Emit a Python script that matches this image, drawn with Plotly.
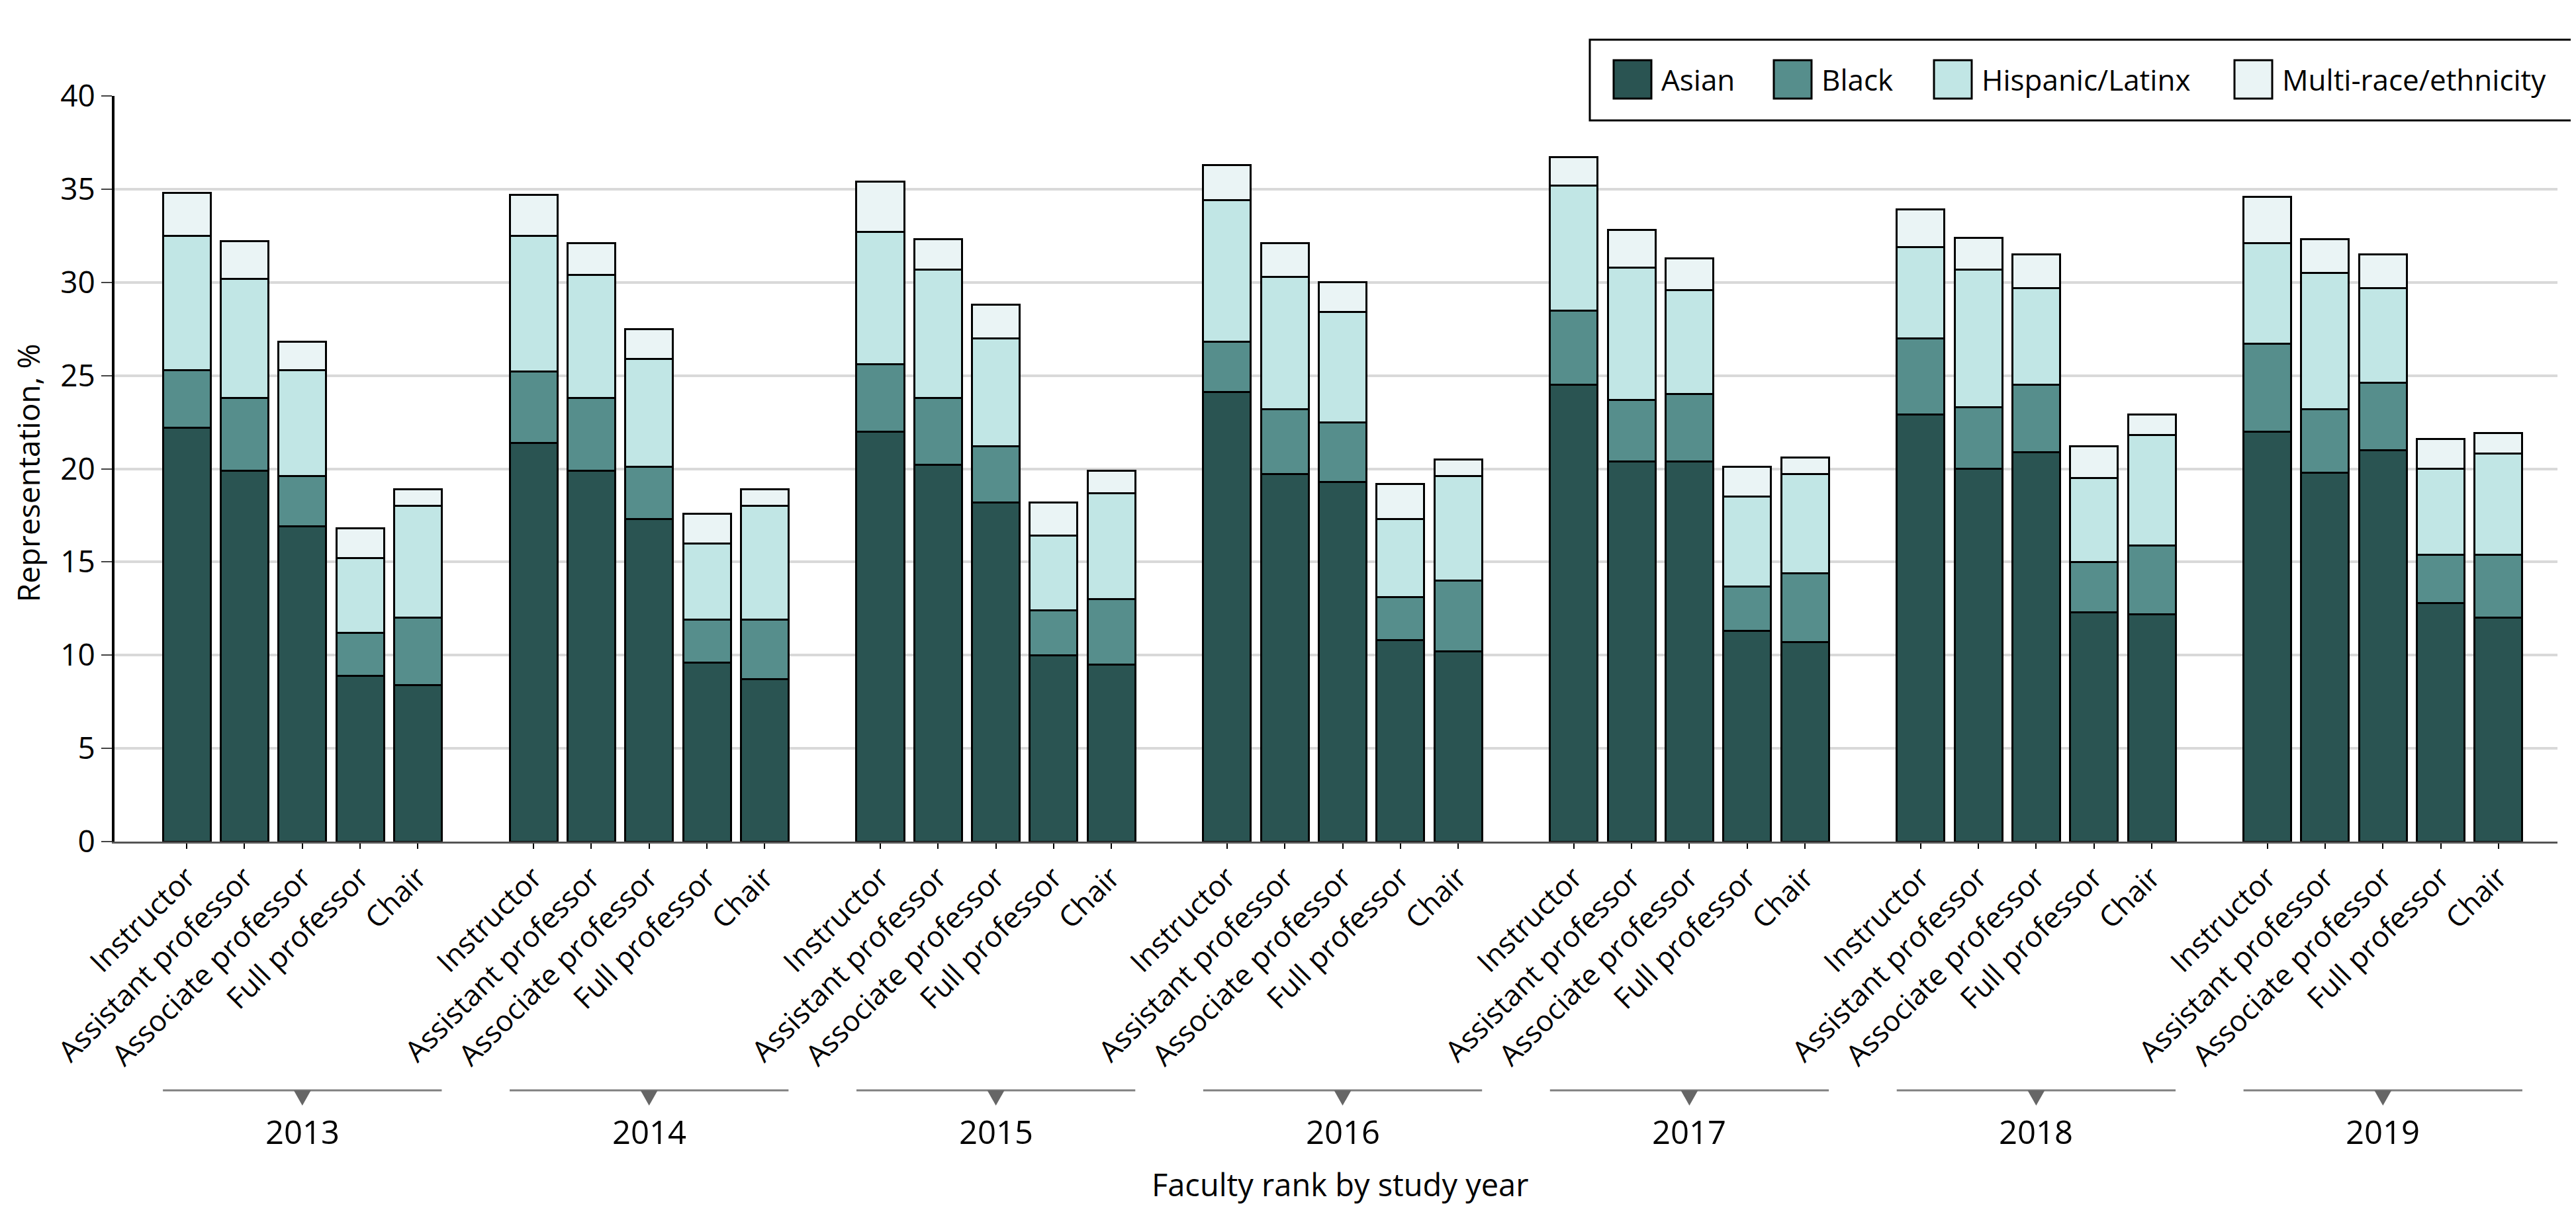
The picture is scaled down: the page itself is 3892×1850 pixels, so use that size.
import plotly.graph_objects as go

# ---------------- data ----------------
years = ["2013", "2014", "2015", "2016", "2017", "2018", "2019"]
ranks = ["Instructor", "Assistant professor", "Associate professor", "Full professor", "Chair"]
series_names = ["Asian", "Black", "Hispanic/Latinx", "Multi-race/ethnicity"]

asian = [22.2, 19.9, 16.9, 8.9, 8.4,
         21.4, 19.9, 17.3, 9.6, 8.7,
         22.0, 20.2, 18.2, 10.0, 9.5,
         24.1, 19.7, 19.3, 10.8, 10.2,
         24.5, 20.4, 20.4, 11.3, 10.7,
         22.9, 20.0, 20.9, 12.3, 12.2,
         22.0, 19.8, 21.0, 12.8, 12.0]
black = [3.1, 3.9, 2.7, 2.3, 3.6,
         3.8, 3.9, 2.8, 2.3, 3.2,
         3.6, 3.6, 3.0, 2.4, 3.5,
         2.7, 3.5, 3.2, 2.3, 3.8,
         4.0, 3.3, 3.6, 2.4, 3.7,
         4.1, 3.3, 3.6, 2.7, 3.7,
         4.7, 3.4, 3.6, 2.6, 3.4]
hispanic = [7.2, 6.4, 5.7, 4.0, 6.0,
            7.3, 6.6, 5.8, 4.1, 6.1,
            7.1, 6.9, 5.8, 4.0, 5.7,
            7.6, 7.1, 5.9, 4.2, 5.6,
            6.7, 7.1, 5.6, 4.8, 5.3,
            4.9, 7.4, 5.2, 4.5, 5.9,
            5.4, 7.3, 5.1, 4.6, 5.4]
multi = [2.3, 2.0, 1.5, 1.6, 0.9,
         2.2, 1.7, 1.6, 1.6, 0.9,
         2.7, 1.6, 1.8, 1.8, 1.2,
         1.9, 1.8, 1.6, 1.9, 0.9,
         1.5, 2.0, 1.7, 1.6, 0.9,
         2.0, 1.7, 1.8, 1.7, 1.1,
         2.5, 1.8, 1.8, 1.6, 1.1]
y_ticks = [0, 5, 10, 15, 20, 25, 30, 35, 40]

# ---------------- style ----------------
colors = ["#2a5452", "#568e8c", "#c1e6e5", "#eaf4f5"]
FONT = "Open Sans, DejaVu Sans, sans-serif"
W, H = 3892, 1850
ML, MR, MT, MB = 165, 36, 137, 586
SLOTS_PER_GROUP = 6
BAR_W = 0.825
X_RANGE = [-1.25, 41.02]

# positions: each year group uses 6 slots (5 bars + 1 gap)
xpos = [g * SLOTS_PER_GROUP + i for g in range(len(years)) for i in range(len(ranks))]
ticktext = [r for _ in years for r in ranks]

fig = go.Figure()
for name, vals, col in zip(series_names, [asian, black, hispanic, multi], colors):
    fig.add_trace(go.Bar(
        x=xpos, y=vals, name=name, width=BAR_W,
        marker=dict(color=col, line=dict(color="#000000", width=3)),
        showlegend=False,
        customdata=ticktext,
        hovertemplate="%{customdata}<br>" + name + ": %{y}%<extra></extra>",
    ))

plot_w = W - ML - MR
plot_h = H - MT - MB


def px_x(p):
    return (p - ML) / plot_w


def px_y(p):
    return (H - MB - p) / plot_h


shapes = []
annotations = []

# year group separators (line + downward triangle + year label)
line_y = px_y(1640)
tri_h = 23 / plot_h
tri_hw = 13 / (plot_w / (X_RANGE[1] - X_RANGE[0]))
for g, yr in enumerate(years):
    x0 = g * SLOTS_PER_GROUP - BAR_W / 2
    x1 = g * SLOTS_PER_GROUP + len(ranks) - 1 + BAR_W / 2
    xc = g * SLOTS_PER_GROUP + (len(ranks) - 1) / 2
    shapes.append(dict(type="line", xref="x", yref="paper", x0=x0, x1=x1, y0=line_y, y1=line_y,
                       line=dict(color="#808080", width=3)))
    shapes.append(dict(type="path", xref="x", yref="paper",
                       path=f"M {xc - tri_hw},{line_y} L {xc + tri_hw},{line_y} L {xc},{line_y - tri_h} Z",
                       fillcolor="#666666", line=dict(width=0)))
    annotations.append(dict(text=yr, xref="x", yref="paper", x=xc, y=px_y(1702),
                            showarrow=False, yanchor="middle", xanchor="center",
                            font=dict(family=FONT, size=49, color="#000")))

# axis titles
annotations.append(dict(text="Faculty rank by study year", xref="paper", yref="paper",
                        x=px_x(2016), y=px_y(1782),
                        showarrow=False, xanchor="center", yanchor="middle",
                        font=dict(family=FONT, size=47, color="#000")))
annotations.append(dict(text="Representation, %", xref="paper", yref="paper",
                        x=px_x(34), y=0.494, textangle=-90,
                        showarrow=False, xanchor="center", yanchor="middle",
                        font=dict(family=FONT, size=46, color="#000")))

# legend (drawn box with swatches)
shapes.append(dict(type="rect", xref="paper", yref="paper",
                   x0=px_x(2394), x1=px_x(3887), y0=px_y(174), y1=px_y(52),
                   fillcolor="white", line=dict(color="#000", width=3), layer="above"))
sw_left = [2430, 2672, 2914, 3368]
for name, col, sx in zip(series_names, colors, sw_left):
    shapes.append(dict(type="rect", xref="paper", yref="paper",
                       x0=px_x(sx), x1=px_x(sx + 57), y0=px_y(141), y1=px_y(83),
                       fillcolor=col, line=dict(color="#000", width=3), layer="above"))
    annotations.append(dict(text=name, xref="paper", yref="paper", x=px_x(sx + 70), y=px_y(112),
                            showarrow=False, xanchor="left", yanchor="middle",
                            font=dict(family=FONT, size=44, color="#000")))

fig.update_layout(
    barmode="stack",
    width=W, height=H,
    margin=dict(l=ML, r=MR, t=MT, b=MB, autoexpand=False),
    plot_bgcolor="white", paper_bgcolor="white",
    font=dict(family=FONT, size=44, color="#000"),
    shapes=shapes, annotations=annotations,
    xaxis=dict(range=X_RANGE, tickvals=xpos, ticktext=ticktext, tickangle=-45,
               tickfont=dict(family=FONT, size=44, color="#000"),
               ticks="outside", ticklen=8, tickwidth=2, tickcolor="#000",
               showline=True, linecolor="#555", linewidth=3, showgrid=False, zeroline=False),
    yaxis=dict(range=[0, 40], tickvals=y_ticks, ticks="outside", ticklen=16, tickwidth=2,
               tickcolor="#444", tickfont=dict(family=FONT, size=46, color="#000"),
               showline=True, linecolor="#000", linewidth=4,
               showgrid=True, gridcolor="#d9d9d9", gridwidth=4, zeroline=False),
)

fig.write_html("out.html")
